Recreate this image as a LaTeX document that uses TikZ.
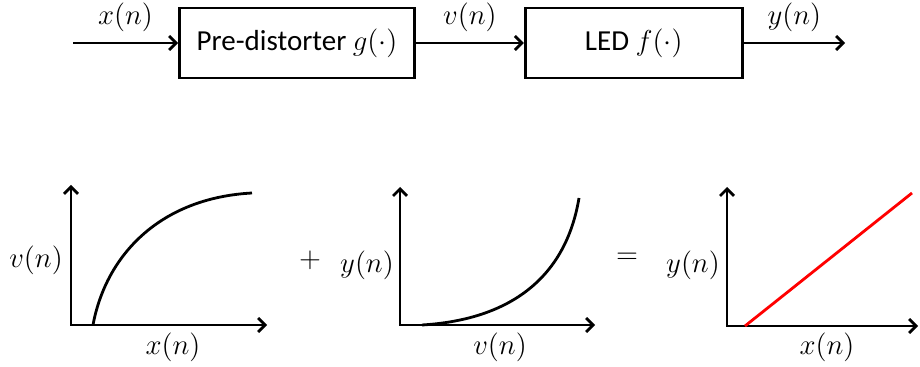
\documentclass[tikz,border=0pt]{standalone}
\usepackage{fontspec}
\newfontfamily\calfont{Carlito}
\usepackage{tikz}
\usetikzlibrary{arrows.meta,positioning}

\begin{document}
\begin{tikzpicture}[
  x=0.5pt, y=-0.5pt,
  node distance=54pt,
  block/.style={draw, line width=1.4pt, minimum height=35pt, align=center,
                inner sep=0pt, font=\calfont\fontsize{14.5}{17}\selectfont},
  arr/.style={-{Straight Barb[length=3.5pt,width=7pt]}, line width=1.4pt},
  axis/.style={{Straight Barb[length=3.5pt,width=7pt]}-{Straight Barb[length=3.5pt,width=7pt]},
               line width=1.4pt},
  curve/.style={line width=1.4pt},
  lbl/.style={font=\fontsize{14.5}{17}\selectfont, inner sep=1pt}
]
\useasboundingbox (0,0) rectangle (920,367);

% system chain
\node[block, minimum width=117.5pt] (pd) at (297,43) {Pre-distorter $g(\cdot)$};
\node[block, minimum width=108.5pt, right=of pd] (led) {LED $f(\cdot)$};
\coordinate (in)  at (73,43);
\coordinate (out) at (845,43);

\draw[arr] (in) -- node[lbl, midway, above=4pt] {$x(n)$} (pd);
\draw[arr] (pd) -- node[lbl, midway, above=4pt] {$v(n)$} (led);
\draw[arr] (led) -- node[lbl, midway, above=4pt] {$y(n)$} (out);

% pre-distorter curve
\coordinate (o1) at (71,325);
\coordinate (t1) at (71,185);
\coordinate (r1) at (267,325);
\draw[axis] (t1) -- (o1) -- (r1);
\draw[curve] (93,325) .. controls (106,255) and (160,198) .. (252,193);
\node[lbl] (v1) at (36,260) {$v(n)$};
\node[lbl] (x1) at (173,347) {$x(n)$};

\node[lbl] (plus) at (310,260) {$+$};

% LED curve
\coordinate (o2) at (400,325);
\coordinate (t2) at (400,187);
\coordinate (r2) at (595,325);
\draw[axis] (t2) -- (o2) -- (r2);
\draw[curve] (422,325) .. controls (505,320) and (565,282) .. (579,198);
\node[lbl] (y2) at (367,265) {$y(n)$};
\node[lbl] (v2) at (500,347) {$v(n)$};

\node[lbl] (eq) at (627,258) {$=$};

% linearised result
\coordinate (o3) at (727,326);
\coordinate (t3) at (727,187);
\coordinate (r3) at (918,326);
\draw[axis] (t3) -- (o3) -- (r3);
\draw[curve, red] (745,326) -- (912,193);
\node[lbl] (y3) at (693,265) {$y(n)$};
\node[lbl] (x3) at (827,347) {$x(n)$};
\end{tikzpicture}
\end{document}
